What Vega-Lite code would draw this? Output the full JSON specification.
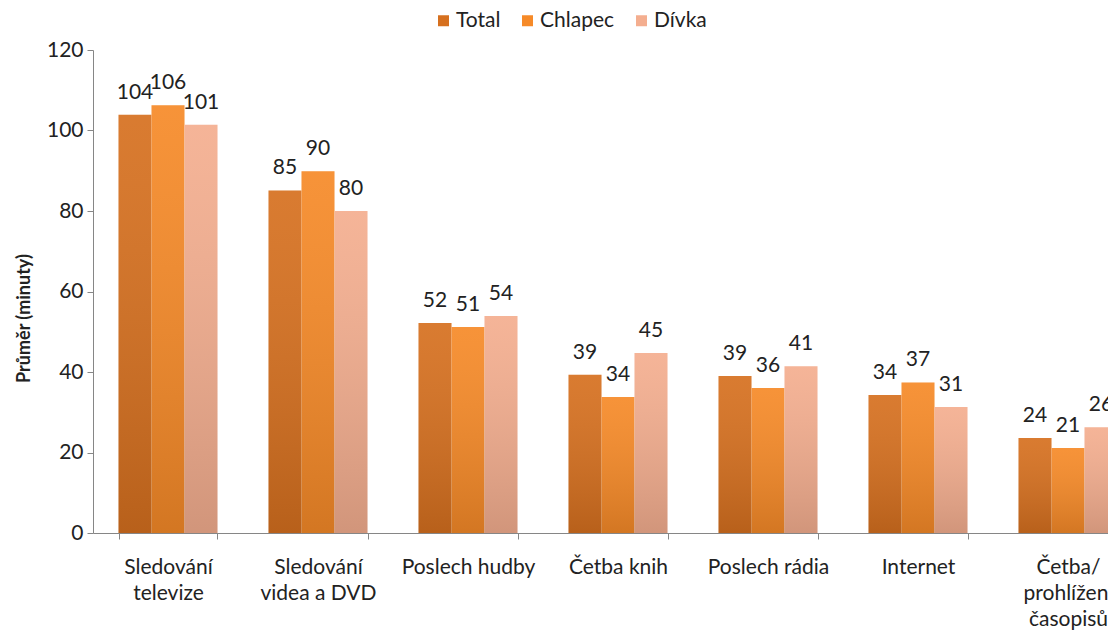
{
  "$schema": "https://vega.github.io/schema/vega-lite/v6.json",
  "width": 1050,
  "height": 483,
  "autosize": {"type": "none"},
  "padding": {"left": 93, "top": 50, "right": 0, "bottom": 104},
  "background": "white",
  "config": {
    "font": "Lato",
    "view": {"stroke": null},
    "axis": {"labelFont": "Lato", "titleFont": "Lato", "labelColor": "#222222", "titleColor": "#222222", "domainColor": "#868686", "tickColor": "#868686", "grid": false},
    "legend": {"labelFont": "Lato"}
  },
  "data": {
    "values": [
      {"cat": "Sledování|televize", "series": "Total", "value": 103.9},
      {"cat": "Sledování|televize", "series": "Chlapec", "value": 106.3},
      {"cat": "Sledování|televize", "series": "Dívka", "value": 101.4},
      {"cat": "Sledování|videa a DVD", "series": "Total", "value": 85.1},
      {"cat": "Sledování|videa a DVD", "series": "Chlapec", "value": 89.9},
      {"cat": "Sledování|videa a DVD", "series": "Dívka", "value": 80.0},
      {"cat": "Poslech hudby", "series": "Total", "value": 52.2},
      {"cat": "Poslech hudby", "series": "Chlapec", "value": 51.2},
      {"cat": "Poslech hudby", "series": "Dívka", "value": 53.9},
      {"cat": "Četba knih", "series": "Total", "value": 39.3},
      {"cat": "Četba knih", "series": "Chlapec", "value": 33.8},
      {"cat": "Četba knih", "series": "Dívka", "value": 44.7},
      {"cat": "Poslech rádia", "series": "Total", "value": 39.0},
      {"cat": "Poslech rádia", "series": "Chlapec", "value": 36.0},
      {"cat": "Poslech rádia", "series": "Dívka", "value": 41.4},
      {"cat": "Internet", "series": "Total", "value": 34.3},
      {"cat": "Internet", "series": "Chlapec", "value": 37.4},
      {"cat": "Internet", "series": "Dívka", "value": 31.3},
      {"cat": "Četba/|prohlížení|časopisů", "series": "Total", "value": 23.6},
      {"cat": "Četba/|prohlížení|časopisů", "series": "Chlapec", "value": 21.1},
      {"cat": "Četba/|prohlížení|časopisů", "series": "Dívka", "value": 26.3}
    ]
  },
  "encoding": {
    "x": {
      "field": "cat", "type": "nominal", "sort": null,
      "scale": {"paddingInner": 0.34, "paddingOuter": 0.17},
      "axis": {"title": null, "labelAngle": 0, "labelExpr": "split(datum.label, '|')", "labelFontSize": 21, "labelLineHeight": 26, "labelBaseline": "top", "labelPadding": 17, "tickBand": "extent", "tickSize": 6, "labelLimit": 300}
    },
    "xOffset": {"field": "series", "type": "nominal", "sort": ["Total", "Chlapec", "Dívka"], "scale": {"paddingInner": 0, "paddingOuter": 0}},
    "y": {
      "field": "value", "type": "quantitative",
      "scale": {"domain": [0, 120], "nice": false},
      "axis": {"values": [0, 20, 40, 60, 80, 100, 120], "title": "Průměr (minuty)", "titleFontSize": 18, "titleFontWeight": "bold", "titleX": -60, "titleY": 268, "labelFontSize": 21, "tickSize": 6, "labelPadding": 4}
    }
  },
  "layer": [
    {
      "mark": {"type": "bar"},
      "encoding": {
        "color": {
          "field": "series", "type": "nominal", "sort": ["Total", "Chlapec", "Dívka"],
          "scale": {"domain": ["Total", "Chlapec", "Dívka"], "range": ["#D6701F", "#F68A28", "#F4AE8F"]},
          "legend": {"title": null, "orient": "none", "legendX": 340, "legendY": -40, "direction": "horizontal", "symbolType": "square", "symbolSize": 121, "labelFontSize": 21, "labelColor": "#222222", "columnPadding": 16, "labelOffset": 2, "symbolStrokeWidth": 0}
        }
      }
    },
    {
      "mark": {
        "type": "bar",
        "fill": {"gradient": "linear", "x1": 0, "y1": 0, "x2": 0, "y2": 1, "stops": [{"offset": 0, "color": "rgba(255,255,255,0.08)"}, {"offset": 1, "color": "rgba(0,0,0,0.14)"}]}
      }
    },
    {
      "mark": {"type": "text", "dy": -16, "baseline": "alphabetic", "fontSize": 21, "color": "#222222"},
      "encoding": {"text": {"field": "value", "type": "quantitative", "format": ".0f"}}
    }
  ]
}
